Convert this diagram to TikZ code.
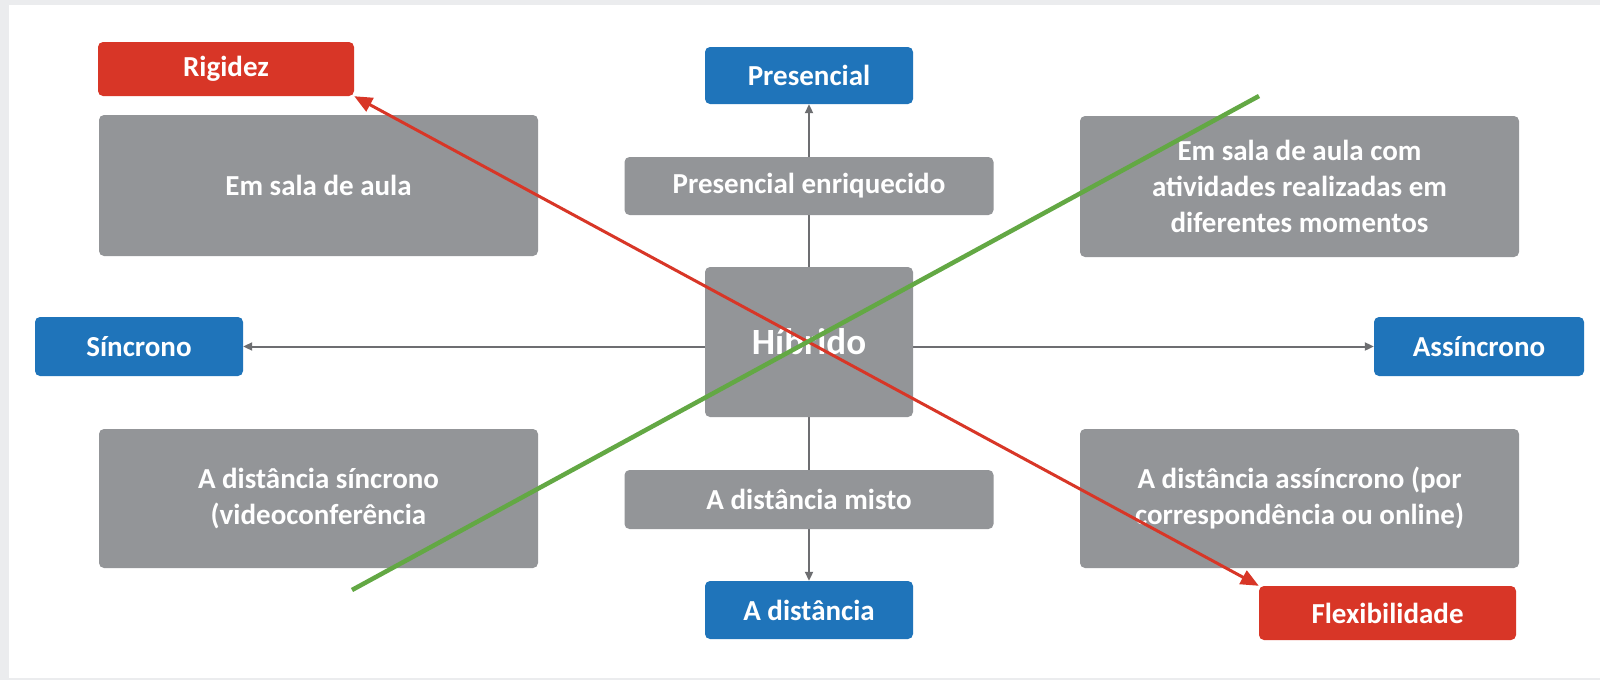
\documentclass[tikz,border=0pt]{standalone}
\usepackage{fontspec}
\setmainfont{Carlito}
\usetikzlibrary{arrows.meta,backgrounds}
\definecolor{boxgray}{HTML}{939598}
\definecolor{bluebox}{HTML}{1F74BA}
\definecolor{redbox}{HTML}{D83627}
\definecolor{greenln}{HTML}{63A844}
\definecolor{connc}{HTML}{6D6E71}
\definecolor{pagegray}{HTML}{EBECEE}
\begin{document}
\begin{tikzpicture}[x=1pt,y=-1pt,
  base/.style={rounded corners=5pt, text=white, font=\bfseries\fontsize{29}{36}\selectfont, align=center, inner sep=0pt, anchor=center},
  gbox/.style={base, fill=boxgray},
  bbox/.style={base, fill=bluebox},
  rbox/.style={base, fill=redbox},
  conn/.style={draw=connc, line width=2pt, -{Triangle[length=9pt,width=8pt]}},
  redarrow/.style={draw=redbox, line width=3pt, {Triangle[length=18pt,width=15pt]}-{Triangle[length=18pt,width=15pt]}},
  greenline/.style={draw=greenln, line width=4.5pt}]
\useasboundingbox (0,0) rectangle (1600,680);
\node[rbox, minimum width=256pt, minimum height=54pt] (rig) at (226,69) {Rigidez};
\node[bbox, minimum width=208pt, minimum height=57pt] (pres) at (809,75.5) {Presencial};
\node[gbox, minimum width=439pt, minimum height=141pt] (sala) at (318.5,185.5) {Em sala de aula};
\node[gbox, minimum width=369pt, minimum height=58pt] (enr) at (809,186) {Presencial enriquecido};
\node[gbox, minimum width=439pt, minimum height=141pt] (salacom) at (1299.5,186.5) {Em sala de aula com\\atividades realizadas em\\diferentes momentos};
\node[bbox, minimum width=208pt, minimum height=59pt] (sinc) at (139,346.5) {Síncrono};
\node[gbox, minimum width=208pt, minimum height=150pt, font=\bfseries\fontsize{37}{44}\selectfont] (hib) at (809,342) {Híbrido};
\node[bbox, minimum width=210pt, minimum height=59pt] (asinc) at (1479,346.5) {Assíncrono};
\node[gbox, minimum width=439pt, minimum height=139pt] (dsinc) at (318.5,498.5) {A distância síncrono\\(videoconferência};
\node[gbox, minimum width=369pt, minimum height=59pt] (misto) at (809,499.5) {A distância misto};
\node[gbox, minimum width=439pt, minimum height=139pt] (dasinc) at (1299.5,498.5) {A distância assíncrono (por\\correspondência ou online)};
\node[bbox, minimum width=208pt, minimum height=58pt] (dist) at (809,610) {A distância};
\node[rbox, minimum width=257pt, minimum height=54pt] (flex) at (1387.5,613) {Flexibilidade};
\begin{scope}[on background layer]
  \fill[pagegray] (0,0) rectangle (1600,680);
  \fill[white] (9,5) rectangle (1600,678);
  \draw[conn] (hib.north) -- (pres.south);
  \draw[conn] (hib.south) -- (dist.north);
  \draw[conn] (sinc.east -| hib.west) -- (sinc.east);
  \draw[conn] (asinc.west -| hib.east) -- (asinc.west);
\end{scope}
\draw[redarrow] (rig.south east) -- (flex.north west);
\coordinate (g1) at (352,590);
\coordinate (g2) at (1259,96);
\draw[greenline] (g1) -- (g2);
\end{tikzpicture}
\end{document}
